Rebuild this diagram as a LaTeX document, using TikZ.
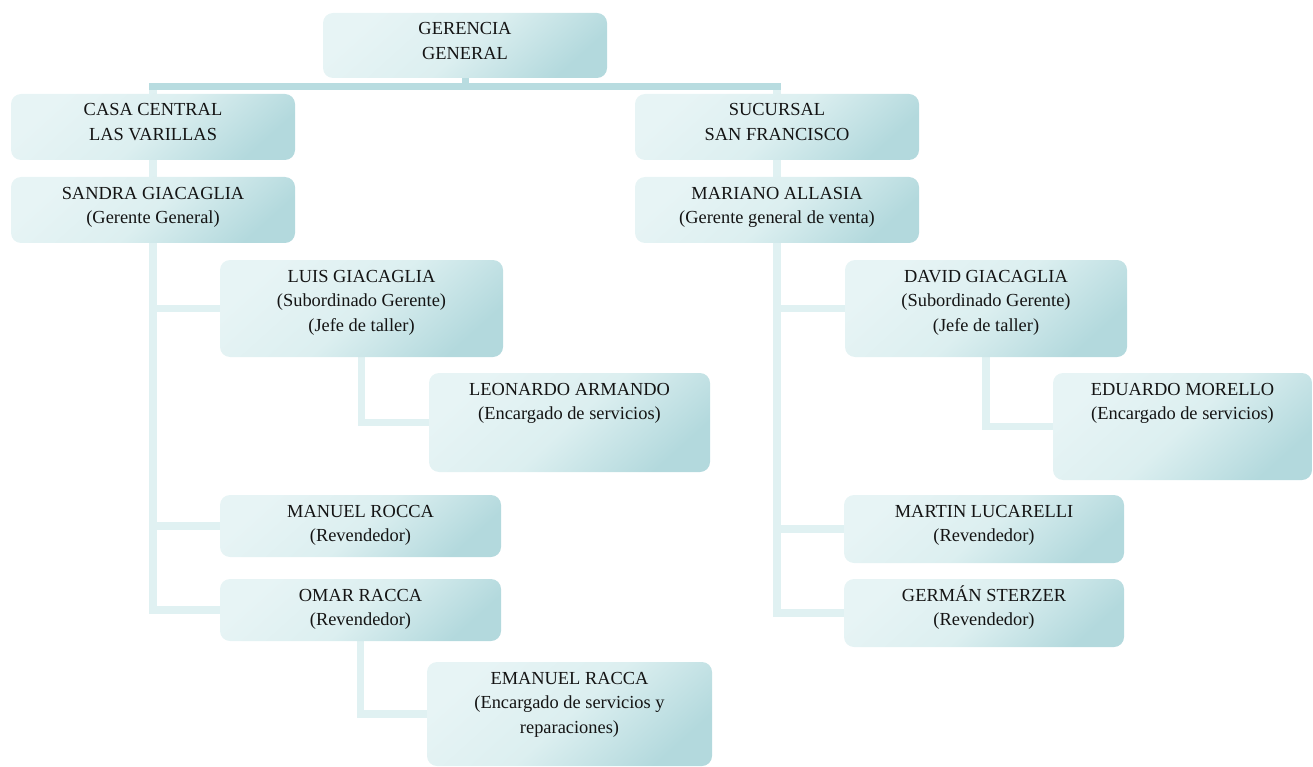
\documentclass[tikz,border=0pt]{standalone}
\usepackage{fontspec}
\setmainfont{Liberation Serif}
\usetikzlibrary{backgrounds}
\definecolor{boxA}{HTML}{E7F4F5}
\definecolor{boxM}{HTML}{DCEFF0}
\definecolor{boxB}{HTML}{B3D9DD}
\definecolor{barC}{HTML}{B8DCE0}
\definecolor{linkC}{HTML}{E0F1F2}
\newcommand{\fl}{\rule{0pt}{17pt}}
\begin{document}
\begin{tikzpicture}[x=1pt,y=-1pt,
  box/.style={rectangle, rounded corners=10pt, inner sep=0pt, draw=none,
    top color=boxA, bottom color=boxB, middle color=boxM, shading angle=42},
  txt/.style={anchor=north, inner sep=0pt, align=center,
    font=\fontsize{18.4}{24.6}\selectfont, text=black!92},
  topbar/.style={draw=barC, line width=7pt},
  link/.style={draw=linkC, line width=7.5pt}]
\useasboundingbox (0,0) rectangle (1313,767);

% boxes
\node[box, minimum width=284pt, minimum height=65pt] (gg) at (465,45.5) {};
\node[box, minimum width=284pt, minimum height=66pt] (cc) at (153,127) {};
\node[box, minimum width=284pt, minimum height=66pt] (sc) at (777,127) {};
\node[box, minimum width=284pt, minimum height=66pt] (sg) at (153,210) {};
\node[box, minimum width=284pt, minimum height=66pt] (ma) at (777,210) {};
\node[box, minimum width=283pt, minimum height=97pt] (lg) at (361.5,308.5) {};
\node[box, minimum width=281pt, minimum height=99pt] (la) at (569.5,422.5) {};
\node[box, minimum width=281pt, minimum height=62pt] (mr) at (360.5,526) {};
\node[box, minimum width=281pt, minimum height=62pt] (or) at (360.5,610) {};
\node[box, minimum width=285pt, minimum height=104pt] (er) at (569.5,714) {};
\node[box, minimum width=282pt, minimum height=97pt] (dg) at (986,308.5) {};
\node[box, minimum width=259pt, minimum height=107pt] (em) at (1182.5,426.5) {};
\node[box, minimum width=280pt, minimum height=68pt] (ml) at (984,529) {};
\node[box, minimum width=280pt, minimum height=68pt] (gs) at (984,613) {};

% texts
\node[txt] (t-gg) at ([yshift=-5pt]gg.north) {\fl GERENCIA\\GENERAL};
\node[txt] (t-cc) at ([yshift=-5pt]cc.north) {\fl CASA CENTRAL\\LAS VARILLAS};
\node[txt] (t-sc) at ([yshift=-5pt]sc.north) {\fl SUCURSAL\\SAN FRANCISCO};
\node[txt] (t-sg) at ([yshift=-5pt]sg.north) {\fl SANDRA GIACAGLIA\\(Gerente General)};
\node[txt] (t-ma) at ([yshift=-5pt]ma.north) {\fl MARIANO ALLASIA\\(Gerente general de venta)};
\node[txt] (t-lg) at ([yshift=-5pt]lg.north) {\fl LUIS GIACAGLIA\\(Subordinado Gerente)\\(Jefe de taller)};
\node[txt] (t-la) at ([yshift=-5pt]la.north) {\fl LEONARDO ARMANDO\\(Encargado de servicios)};
\node[txt] (t-mr) at ([yshift=-5pt]mr.north) {\fl MANUEL ROCCA\\(Revendedor)};
\node[txt] (t-or) at ([yshift=-5pt]or.north) {\fl OMAR RACCA\\(Revendedor)};
\node[txt] (t-er) at ([yshift=-5pt]er.north) {\fl EMANUEL RACCA\\(Encargado de servicios y\\reparaciones)};
\node[txt] (t-dg) at ([yshift=-5pt]dg.north) {\fl DAVID GIACAGLIA\\(Subordinado Gerente)\\(Jefe de taller)};
\node[txt] (t-em) at ([yshift=-5pt]em.north) {\fl EDUARDO MORELLO\\(Encargado de servicios)};
\node[txt] (t-ml) at ([yshift=-5pt]ml.north) {\fl MARTIN LUCARELLI\\(Revendedor)};
\node[txt] (t-gs) at ([yshift=-5pt]gs.north) {\fl GERMÁN STERZER\\(Revendedor)};

% connectors
\coordinate (barL) at (149,86.5);
\coordinate (barR) at (781,86.5);
\coordinate (lv) at (153,89);
\coordinate (rv) at (777,89);
\begin{scope}[on background layer]
  \draw[link] (lv) |- (lg.west);
  \draw[link] (lv) |- (mr.west);
  \draw[link] (lv) |- (or.west);
  \draw[link] (rv) |- (dg.west);
  \draw[link] (rv) |- (ml.west);
  \draw[link] (rv) |- (gs.west);
  \draw[link] (lg.south) |- (la.west);
  \draw[link] (or.south) |- (er.west);
  \draw[link] (dg.south) |- (em.west);
  \draw[topbar] (barL) -- (barR);
  \draw[topbar] (gg.south) -- (gg.south |- barL);
\end{scope}
\end{tikzpicture}
\end{document}
